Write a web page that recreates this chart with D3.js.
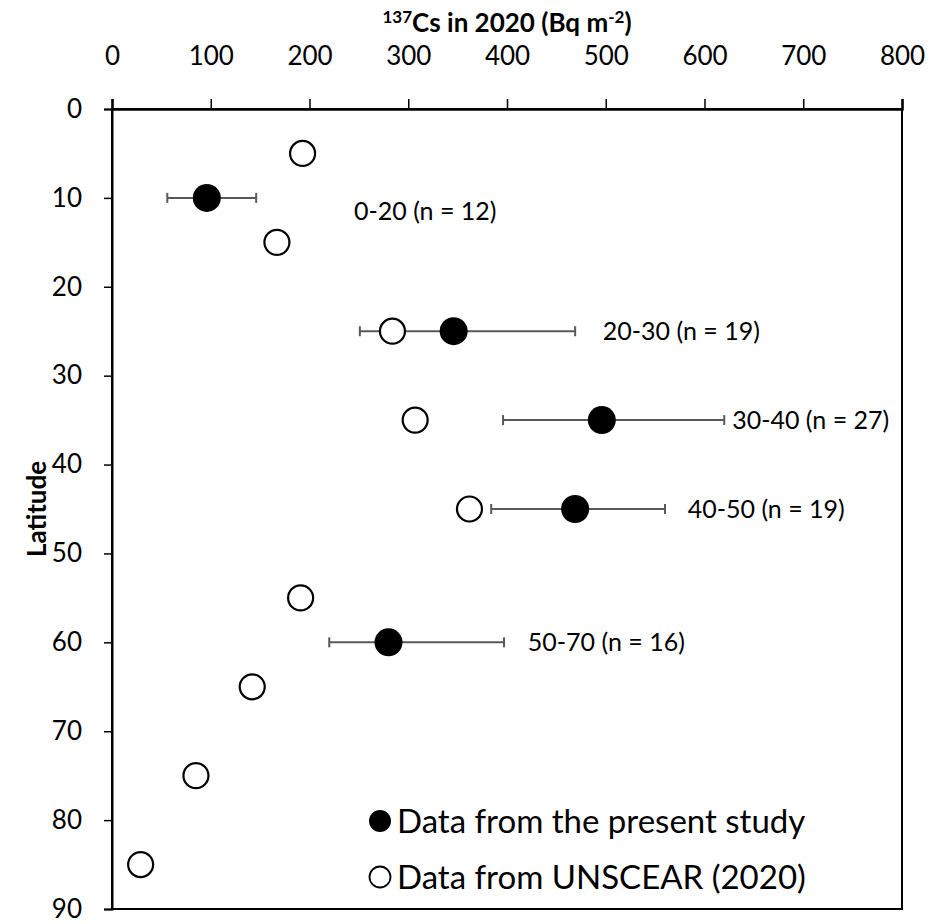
<!DOCTYPE html>
<html>
<head>
<meta charset="utf-8">
<script src="https://cdn.jsdelivr.net/npm/d3@7"></script>
<style>
    body { margin: 0; background: #fff; }
    text { font-family: Lato, "Open Sans", sans-serif; fill: #000; }
</style>
</head>
<body>
<div id="chart"></div>
<script>
// Present study: latitude band midpoints, mean and error range (Bq m-2)
let studyLat = [10, 25, 35, 45, 60];
let studyMean = [96, 346, 496, 469, 280];
let studyLow = [56, 251, 396, 384, 220];
let studyHigh = [146, 469, 620, 560, 397];

// band labels and where they sit (data units)
let bandLabels = ["0-20 (n = 12)", "20-30 (n = 19)", "30-40 (n = 27)", "40-50 (n = 19)", "50-70 (n = 16)"];
let bandLabelLat = [11.5, 25, 35, 45, 60];
let bandLabelValue = [245, 497, 628, 583, 421];

// UNSCEAR (2020)
let unscearLat = [5, 15, 25, 35, 45, 55, 65, 75, 85];
let unscearValue = [193, 167, 284, 307, 362, 191, 142, 85, 29];

let xTicks = [0, 100, 200, 300, 400, 500, 600, 700, 800];
let yTicks = [0, 10, 20, 30, 40, 50, 60, 70, 80, 90];

let margin = { top: 109, right: 28, bottom: 15, left: 112 };
let width = 930 - margin.left - margin.right,
    height = 924 - margin.top - margin.bottom;

let svg = d3.select("#chart").append("svg")
    .attr("width", 930)
    .attr("height", 924);

let g = svg.append("g")
    .attr("transform", "translate(" + margin.left + "," + margin.top + ")");

let x = d3.scaleLinear().domain([0, 800]).range([0, width]);
let y = d3.scaleLinear().domain([0, 90]).range([0, height]);

// frame
g.append("rect")
    .attr("width", width)
    .attr("height", height)
    .attr("fill", "none")
    .attr("stroke", "#000")
    .attr("stroke-width", 2);

// axes
let xAxis = g.append("g")
    .call(d3.axisTop(x).tickValues(xTicks).tickSize(10).tickPadding(34));
xAxis.select(".domain").attr("stroke-width", 2.5);
xAxis.selectAll(".tick line").attr("stroke-width", 1.5);
xAxis.selectAll("text").style("font-size", "26px");

let yAxis = g.append("g")
    .call(d3.axisLeft(y).tickValues(yTicks).tickSize(8).tickPadding(22));
yAxis.select(".domain").attr("stroke-width", 2);
yAxis.selectAll(".tick line").attr("stroke-width", 1.5);
yAxis.selectAll("text").style("font-size", "26px");

// title
let title = svg.append("text")
    .attr("x", margin.left + width / 2)
    .attr("y", 32)
    .attr("text-anchor", "middle")
    .style("font-size", "26px")
    .style("font-weight", "bold");
title.append("tspan").attr("dy", "-9").style("font-size", "17px").text("137");
title.append("tspan").attr("dy", "9").text("Cs in 2020 (Bq m");
title.append("tspan").attr("dy", "-9").style("font-size", "17px").text("-2");
title.append("tspan").attr("dy", "9").text(")");

svg.append("text")
    .attr("transform", "translate(46," + (margin.top + height / 2) + ") rotate(-90)")
    .attr("text-anchor", "middle")
    .style("font-size", "26px")
    .style("font-weight", "bold")
    .text("Latitude");

// error bars
let study = studyLat.map((d, i) => ({ lat: d, mean: studyMean[i], low: studyLow[i], high: studyHigh[i] }));
let errColor = "#595959";

g.selectAll(".err-line").data(study).enter().append("line")
    .attr("x1", d => x(d.low)).attr("x2", d => x(d.high))
    .attr("y1", d => y(d.lat)).attr("y2", d => y(d.lat))
    .attr("stroke", errColor).attr("stroke-width", 2);

g.selectAll(".cap-low").data(study).enter().append("line")
    .attr("x1", d => x(d.low)).attr("x2", d => x(d.low))
    .attr("y1", d => y(d.lat) - 5).attr("y2", d => y(d.lat) + 5)
    .attr("stroke", errColor).attr("stroke-width", 2);

g.selectAll(".cap-high").data(study).enter().append("line")
    .attr("x1", d => x(d.high)).attr("x2", d => x(d.high))
    .attr("y1", d => y(d.lat) - 5).attr("y2", d => y(d.lat) + 5)
    .attr("stroke", errColor).attr("stroke-width", 2);

// UNSCEAR open circles
g.selectAll(".open").data(unscearLat).enter().append("circle")
    .attr("cx", (d, i) => x(unscearValue[i]))
    .attr("cy", d => y(d))
    .attr("r", 12.5)
    .attr("fill", "#fff")
    .attr("stroke", "#000")
    .attr("stroke-width", 2.2);

// present study filled circles
g.selectAll(".filled").data(study).enter().append("circle")
    .attr("cx", d => x(d.mean))
    .attr("cy", d => y(d.lat))
    .attr("r", 14)
    .attr("fill", "#000");

// band labels
g.selectAll(".band").data(bandLabels).enter().append("text")
    .attr("x", (d, i) => x(bandLabelValue[i]))
    .attr("y", (d, i) => y(bandLabelLat[i]))
    .attr("dy", "0.35em")
    .style("font-size", "25px")
    .text(d => d);

// legend
let legend = svg.append("g").attr("transform", "translate(380,821)");
legend.append("circle").attr("r", 11).attr("fill", "#000");
legend.append("text").attr("x", 17).attr("y", 0).attr("dy", "0.35em")
    .style("font-size", "33px").text("Data from the present study");
legend.append("circle").attr("cy", 56).attr("r", 10.5)
    .attr("fill", "#fff").attr("stroke", "#000").attr("stroke-width", 1.8);
legend.append("text").attr("x", 17).attr("y", 56).attr("dy", "0.35em")
    .style("font-size", "33px").text("Data from UNSCEAR (2020)");
</script>
</body>
</html>
